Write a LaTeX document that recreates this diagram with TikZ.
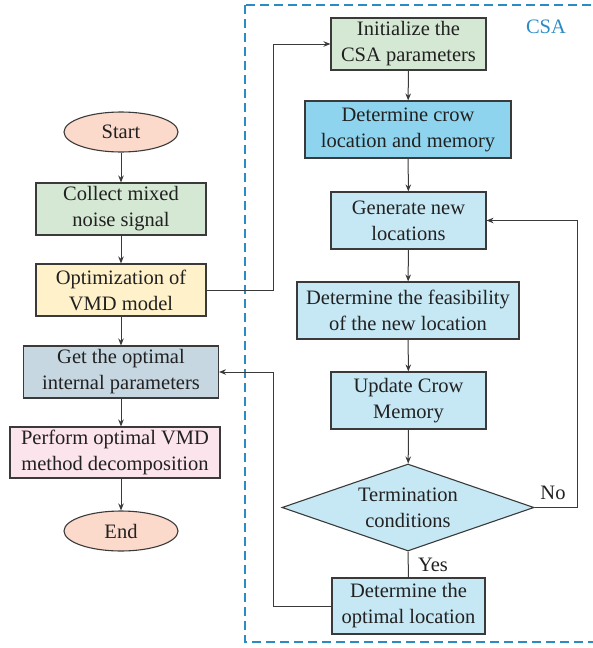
\documentclass[tikz,border=0pt]{standalone}
\usepackage{fontspec}
\setmainfont{Liberation Serif}
\usetikzlibrary{arrows.meta,positioning,shapes.geometric}
\definecolor{csaBlue}{HTML}{2B8CC4}
\definecolor{lineGray}{HTML}{3A3A3A}
\definecolor{termPeach}{HTML}{FCDACB}
\definecolor{stepGreen}{HTML}{D5E8D4}
\definecolor{stepYellow}{HTML}{FFF1CA}
\definecolor{stepSlate}{HTML}{C6D7E1}
\definecolor{stepPink}{HTML}{FCE4EC}
\definecolor{crowBlue}{HTML}{8FD4EE}
\definecolor{stepSky}{HTML}{C6E8F4}

\begin{document}
\begin{tikzpicture}[x=1pt,y=-1pt,
    every node/.style={font=\fontsize{20.5}{26}\selectfont,text=black!87},
    stepbox/.style={draw=lineGray,line width=1.1pt,align=center,inner sep=0pt},
    termnode/.style={ellipse,draw=lineGray,line width=1.1pt,fill=termPeach,
      minimum width=114,minimum height=40,inner sep=0pt},
    arr/.style={draw=lineGray,line width=1pt,-{Stealth[length=7pt,width=5.5pt]}},
    plain/.style={draw=lineGray,line width=1pt}]
  \useasboundingbox (0,0) rectangle (592,648);

  % CSA frame
  \draw[draw=csaBlue,line width=1.3pt,dash pattern=on 9pt off 5pt] (245,5) rectangle (600,642);
  \node[text=csaBlue] (csalbl) at (546,27) {CSA};

  % main flow
  \node[termnode] (start) at (121,132) {Start};
  \node[stepbox,fill=stepGreen,minimum width=170,minimum height=52] (collect) at (121,209) {Collect mixed\\noise signal};
  \node[stepbox,fill=stepYellow,minimum width=170,minimum height=52] (optim) at (121,290) {Optimization of\\VMD model};
  \node[stepbox,fill=stepSlate,minimum width=195,minimum height=52] (getopt) at (121,372) {Get the optimal\\internal parameters};
  \node[stepbox,fill=stepPink,minimum width=210,minimum height=51] (perform) at (115,452.5) {Perform optimal VMD\\method decomposition};
  \node[termnode] (finish) at (121,531) {End};

  % CSA loop
  \node[stepbox,fill=stepGreen,minimum width=155,minimum height=52] (init) at (408.5,44) {Initialize the\\CSA parameters};
  \node[stepbox,fill=crowBlue,minimum width=206,minimum height=57] (crow) at (408,129.5) {Determine crow\\location and memory};
  \node[stepbox,fill=stepSky,minimum width=155,minimum height=57] (newloc) at (408.5,220.5) {Generate new\\locations};
  \node[stepbox,fill=stepSky,minimum width=222,minimum height=57] (feas) at (408,310.5) {Determine the feasibility\\of the new location};
  \node[stepbox,fill=stepSky,minimum width=155,minimum height=57] (update) at (408.5,400.5) {Update Crow\\Memory};
  \node[stepbox,diamond,aspect=2.9,fill=stepSky,minimum width=252,minimum height=87] (stopq) at (408,507.5) {Termination\\conditions};
  \node[stepbox,fill=stepSky,minimum width=153,minimum height=56] (best) at (408.5,606) {Determine the\\optimal location};

  \coordinate (linkcol) at (273,0);
  \coordinate (nocol) at (577,0);

  \draw[arr] (start) -- (collect);
  \draw[arr] (collect) -- (optim);
  \draw[arr] (optim) -- (getopt);
  \draw[arr] (getopt) -- (perform.north -| getopt);
  \draw[arr] (perform.south -| finish) -- (finish);
  \draw[arr] (optim.east) -- (optim.east -| linkcol) |- (init.west);

  \draw[arr] (init) -- (crow);
  \draw[arr] (crow) -- (newloc);
  \draw[arr] (newloc) -- (feas);
  \draw[arr] (feas) -- (update);
  \draw[arr] (update) -- (stopq);
  \draw[arr] (stopq.east) -- (stopq.east -| nocol) |- (newloc.east);
  \draw[plain] (stopq.south) -- (best.north);
  \draw[arr] (best.west) -- (best.west -| linkcol) |- (getopt.east);

  \node (nolbl) at (553,493) {No};
  \node (yeslbl) at (433,565) {Yes};
\end{tikzpicture}
\end{document}
